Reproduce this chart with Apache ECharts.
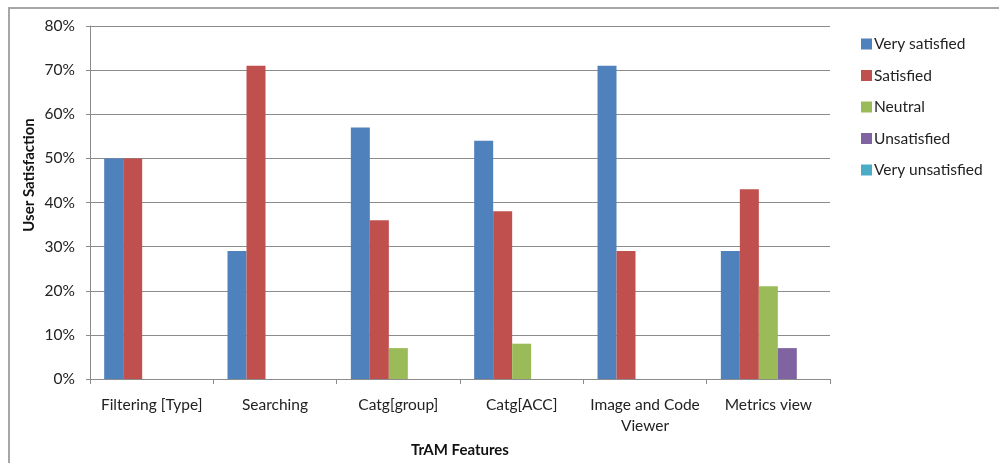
<!DOCTYPE html>
<html>
<head>
<meta charset="utf-8">
<style>
  html, body { margin: 0; padding: 0; background: #fff; }
  #chart { width: 999px; height: 463px; }
</style>
<script src="https://cdn.jsdelivr.net/npm/echarts@6/dist/echarts.min.js"></script>
</head>
<body>
<div id="chart"></div>
<script>
// TrAM feature satisfaction survey (percent of respondents)
const categories = ['Filtering [Type]', 'Searching', 'Catg[group]', 'Catg[ACC]', 'Image and Code\nViewer', 'Metrics view'];
const seriesNames = ['Very satisfied', 'Satisfied', 'Neutral', 'Unsatisfied', 'Very unsatisfied'];
const verySatisfied   = [50, 29, 57, 54, 71, 29];
const satisfied       = [50, 71, 36, 38, 29, 43];
const neutral         = [0, 0, 7, 8, 0, 21];
const unsatisfied     = [0, 0, 0, 0, 0, 7];
const veryUnsatisfied = [0, 0, 0, 0, 0, 0];
const yTicks = [0, 10, 20, 30, 40, 50, 60, 70, 80];

const colors = ['#4F81BD', '#C0504D', '#9BBB59', '#8064A2', '#4BACC6'];
const values = [verySatisfied, satisfied, neutral, unsatisfied, veryUnsatisfied];
const FONT = 'Lato, "Open Sans", sans-serif';

const chart = echarts.init(document.getElementById('chart'), null, { renderer: 'canvas' });
chart.setOption({
  animation: false,
  color: colors,
  grid: { left: 90, right: 169, top: 26, bottom: 76, containLabel: false },
  legend: {
    orient: 'vertical',
    left: 861,
    top: 36,
    padding: 0,
    itemWidth: 11,
    itemHeight: 11,
    itemGap: 15.5,
    icon: 'rect',
    textStyle: { fontFamily: FONT, fontSize: 15.5, color: '#222', padding: [0, 0, 0, -3] },
    data: seriesNames
  },
  xAxis: {
    type: 'category',
    data: categories,
    name: 'TrAM Features',
    nameLocation: 'middle',
    nameGap: 64,
    nameTextStyle: { fontFamily: FONT, fontSize: 15, fontWeight: 'bold', color: '#111' },
    axisLine: { lineStyle: { color: '#8c8c8c', width: 1 } },
    axisTick: { show: true, length: 5, lineStyle: { color: '#8c8c8c' }, alignWithLabel: false },
    axisLabel: { fontFamily: FONT, fontSize: 15.5, color: '#222', margin: 15, lineHeight: 21, interval: 0 },
    splitLine: { show: false }
  },
  yAxis: {
    type: 'value',
    min: yTicks[0],
    max: yTicks[yTicks.length - 1],
    interval: 10,
    axisLine: { show: true, lineStyle: { color: '#8c8c8c', width: 1 } },
    axisTick: { show: true, length: 4, lineStyle: { color: '#8c8c8c' } },
    axisLabel: { fontFamily: FONT, fontSize: 15.5, color: '#222', margin: 15, formatter: '{value}%' },
    splitLine: { show: true, lineStyle: { color: '#8c8c8c', width: 1 } }
  },
  graphic: [
    {
      type: 'rect',
      shape: { x: 9, y: 8, width: 1200, height: 600 },
      style: { fill: 'none', stroke: '#a6a6a6', lineWidth: 2 },
      silent: true
    },
    {
      type: 'text',
      x: 29,
      y: 175,
      rotation: Math.PI / 2,
      style: {
        text: 'User Satisfaction',
        font: 'bold 15px ' + FONT,
        fill: '#111',
        align: 'center',
        verticalAlign: 'middle'
      }
    }
  ],
  series: seriesNames.map((name, i) => ({
    name,
    type: 'bar',
    data: values[i],
    barGap: '0%',
    barCategoryGap: '23%',
    itemStyle: { color: colors[i] }
  }))
});
</script>
</body>
</html>
